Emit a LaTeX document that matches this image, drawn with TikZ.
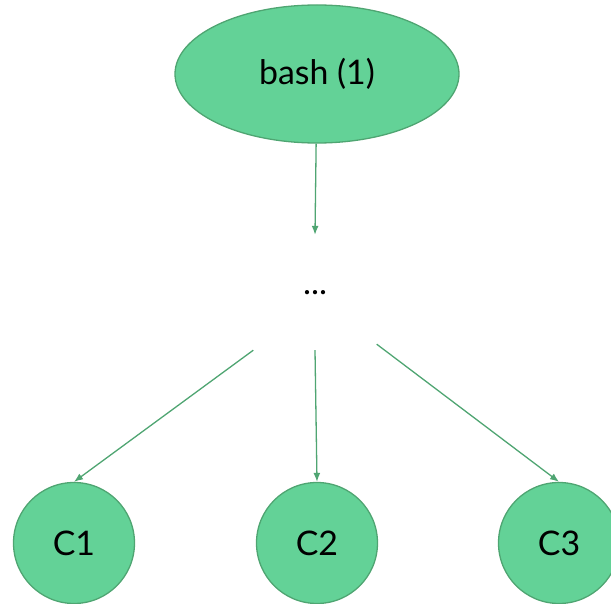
\documentclass[tikz,border=0pt]{standalone}
\usepackage{fontspec}
\setmainfont{Lato}
\usepackage{xcolor}
\usetikzlibrary{positioning}
\usetikzlibrary{arrows.meta}
\usetikzlibrary{shapes.geometric}

\definecolor{procfill}{HTML}{63D297}
\definecolor{procline}{HTML}{4FA572}

\begin{document}
\begin{tikzpicture}[
                x=1bp, y=-1bp,
                every node/.style={font=\fontsize{34}{40}\selectfont},
                proc/.style={ellipse, draw=procline, fill=procfill, line width=1.3bp, inner sep=0pt},
                child/.style={proc, minimum width=121bp, minimum height=121bp},
                link/.style={draw=procline, line width=1.3bp, -{Latex[length=9bp,width=7bp]}}
            ]
            \useasboundingbox (0,0) rectangle (611,604);
            % Nodes
            \node[proc, minimum width=284bp, minimum height=138bp] (bash) at (317,74) {bash (1)};
            \node[minimum width=123bp, minimum height=115bp, inner sep=0pt] (dots) at (315,292.5) {...};
            \node[child] (c1) at (74,543) {C1};
            \node[child] (c2) at (317,543) {C2};
            \node[child] (c3) at (559,543) {C3};
            % Arrows
            \draw[link] (bash) -- (dots.north);
            \draw[link] (dots.south west) -- (c1.north);
            \draw[link] (dots.south) -- (c2.north);
            \draw[link] ([yshift=6bp]dots.south east) -- (c3.north);
            
\end{tikzpicture}
\end{document}
